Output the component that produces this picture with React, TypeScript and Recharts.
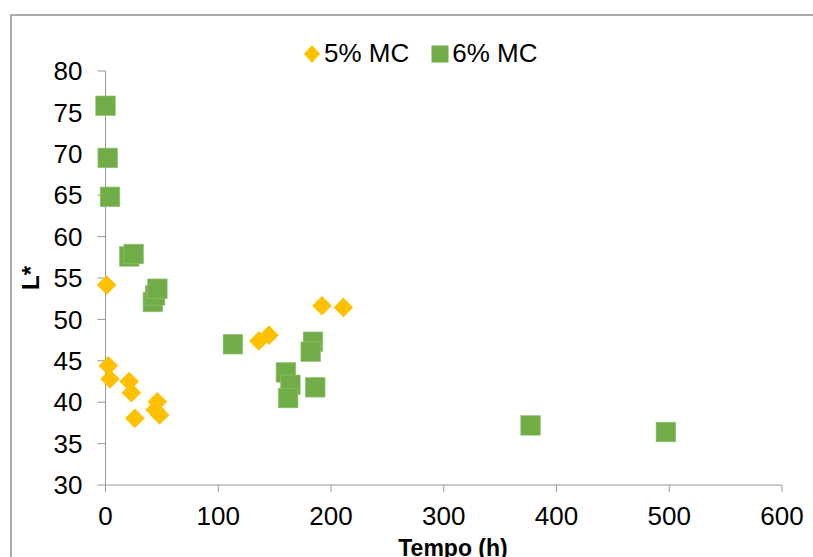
import React from "react";
import { ScatterChart, Scatter, XAxis, YAxis } from "recharts";

const series5Name = "5% MC";
const series6Name = "6% MC";
const tempo5 = [1, 2.5, 4, 21, 23, 26, 46, 44, 48, 136, 145, 192, 211];
const l5 = [54.15, 44.4, 42.8, 42.5, 41.15, 38.05, 40.05, 39.1, 38.45, 47.4, 48.1, 51.65, 51.45];
const tempo6 = [0, 2, 4, 21, 25, 42, 44, 46, 113, 184, 182, 160, 164, 162, 186, 377, 497];
const l6 = [75.8, 69.5, 64.8, 57.6, 57.9, 52.1, 52.9, 53.7, 47.0, 47.3, 46.1, 43.6, 42.1, 40.5, 41.8, 37.2, 36.4];
const xTicks = [0, 100, 200, 300, 400, 500, 600];
const yTicks = [30, 35, 40, 45, 50, 55, 60, 65, 70, 75, 80];

const data5 = tempo5.map((t, i) => ({ t, l: l5[i] }));
const data6 = tempo6.map((t, i) => ({ t, l: l6[i] }));

const YELLOW = "#FFC000";
const GREEN = "#70AD47";
const AXIS = "#969696";
const FONT = "'Liberation Sans', Arial, sans-serif";

const Diamond = (props: any) => {
  const { cx, cy } = props;
  const r = 9.8;
  return (
    <polygon
      points={`${cx},${cy - r} ${cx + r},${cy} ${cx},${cy + r} ${cx - r},${cy}`}
      fill={YELLOW}
    />
  );
};

const Square = (props: any) => {
  const { cx, cy } = props;
  const s = 19.6;
  return <rect x={cx - s / 2} y={cy - s / 2} width={s} height={s} fill={GREEN} stroke="#93c47a" strokeWidth={0.6} />;
};

const YLabel = (props: any) => {
  const x = 30;
  const y = 278;
  return (
    <text
      x={x}
      y={y}
      transform={`rotate(-90 ${x} ${y})`}
      textAnchor="middle"
      dominantBaseline="central"
      fontFamily={FONT}
      fontWeight="bold"
      fontSize={24}
      fill="#000"
    >
      L*
    </text>
  );
};

const XLabel = (props: any) => {
  return (
    <text
      x={453}
      y={556}
      textAnchor="middle"
      fontFamily={FONT}
      fontWeight="bold"
      fontSize={23}
      fill="#000"
    >
      Tempo (h)
    </text>
  );
};

export default function App() {
  return (
    <div
      style={{
        position: "absolute",
        left: 0,
        top: 0,
        width: 813,
        height: 557,
        overflow: "hidden",
        background: "#fff",
      }}
    >
      <div
        style={{
          position: "absolute",
          left: 10,
          top: 14,
          width: 1000,
          height: 1000,
          border: "2px solid #ababab",
          boxSizing: "border-box",
        }}
      />
      <div style={{ position: "absolute", left: 0, top: 0 }}>
        <ScatterChart
          width={813}
          height={557}
          margin={{ top: 71, right: 31, bottom: 0, left: 0 }}
        >
          <XAxis
            type="number"
            dataKey="t"
            domain={[0, 600]}
            ticks={xTicks}
            interval={0}
            height={72}
            stroke={AXIS}
            tickSize={7}
            tickMargin={15}
            tick={{ fill: "#000", fontSize: 26, fontFamily: FONT }}
            tickLine={{ stroke: AXIS }}
            axisLine={{ stroke: AXIS }}
            label={<XLabel />}
          />
          <YAxis
            type="number"
            dataKey="l"
            domain={[30, 80]}
            ticks={yTicks}
            interval={0}
            width={105.5}
            stroke={AXIS}
            tickSize={8}
            tickMargin={15}
            tick={{ fill: "#000", fontSize: 26, fontFamily: FONT }}
            tickLine={{ stroke: AXIS }}
            axisLine={{ stroke: AXIS }}
            label={<YLabel />}
          />
          <Scatter name={series5Name} data={data5} shape={<Diamond />} isAnimationActive={false} />
          <Scatter name={series6Name} data={data6} shape={<Square />} isAnimationActive={false} />
        </ScatterChart>
      </div>
      <div
        style={{
          position: "absolute",
          left: 302,
          top: 38,
          display: "flex",
          alignItems: "center",
          fontFamily: FONT,
          fontSize: 26,
          color: "#000",
          whiteSpace: "nowrap",
        }}
      >
        <svg width={20} height={20} style={{ display: "block" }}>
          <polygon points="10,1 18,10 10,19 2,10" fill={YELLOW} />
        </svg>
        <span style={{ marginLeft: 2 }}>{series5Name}</span>
        <svg width={18} height={18} style={{ display: "block", marginLeft: 22 }}>
          <rect x={0.5} y={0.5} width={17} height={17} fill={GREEN} />
        </svg>
        <span style={{ marginLeft: 3 }}>{series6Name}</span>
      </div>
    </div>
  );
}
